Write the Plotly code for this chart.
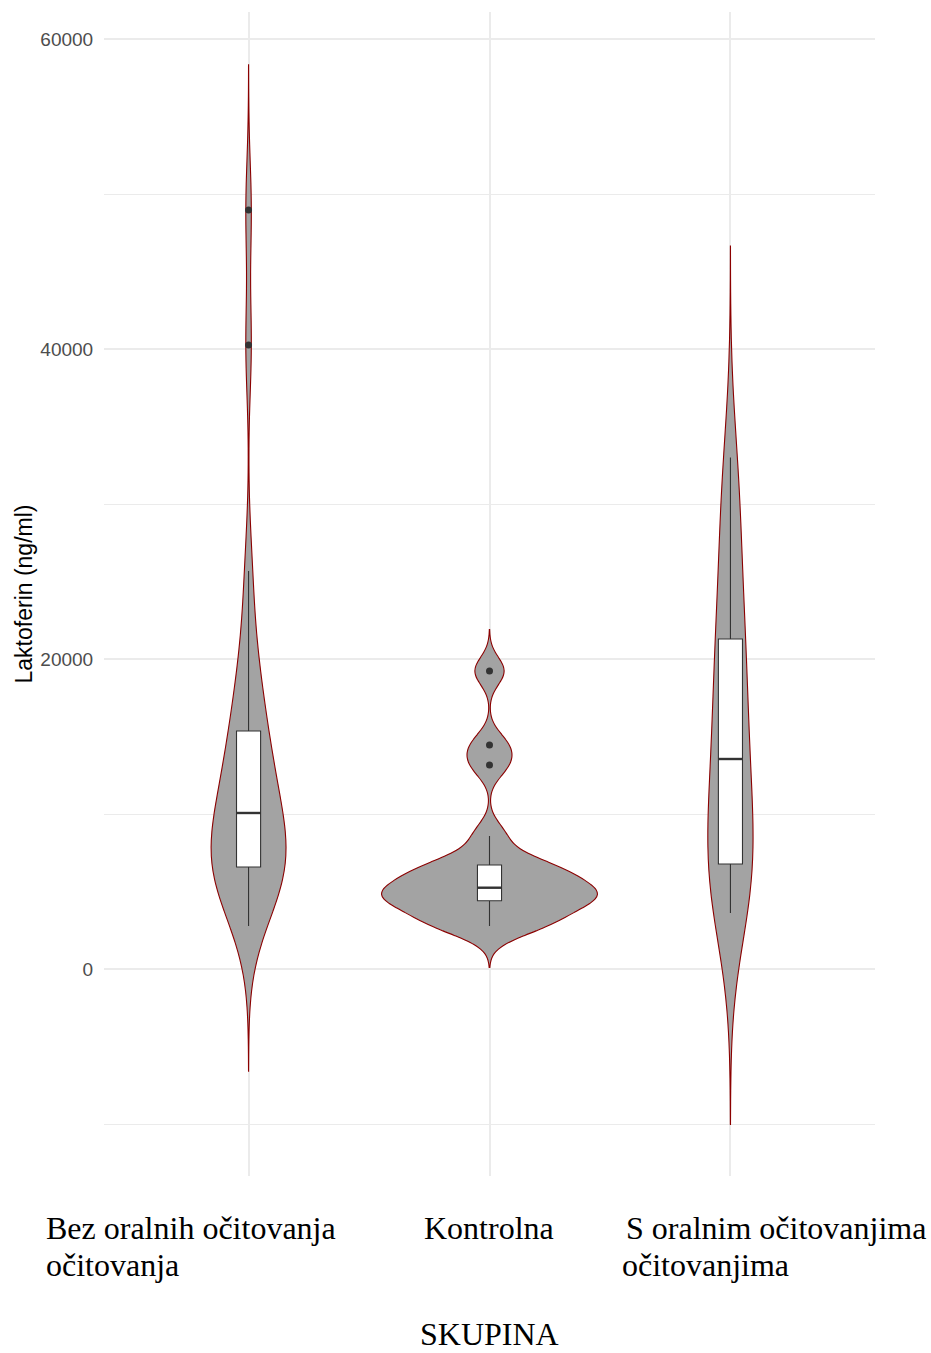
import numpy as np
import plotly.graph_objects as go

# Groups (x categories) and their two-line tick labels
groups = ["Bez oralnih očitovanja", "Kontrolna", "S oralnim očitovanjima"]
tick_labels = [
    ["Bez oralnih očitovanja", "očitovanja"],
    ["Kontrolna"],
    ["S oralnim očitovanjima", "očitovanjima"],
]

# Lactoferrin measurements (ng/ml) per group
bez_oralnih = [2774, 4000, 4800, 5400, 5900, 6200, 6480, 6613, 7000, 7400,
               7900, 8500, 9200, 9800, 10330, 11000, 11700, 12500, 13300, 14200,
               15000, 16420, 17500, 19000, 21500, 25677, 40258, 48968]
kontrolna = [2774, 2850, 3050, 3900, 4350, 4570, 4650, 4800, 5150, 5340,
             5900, 6400, 6650, 6730, 8580, 13161, 14452, 19226]
s_oralnim = [3613, 4400, 5200, 5900, 6550, 6850, 8600, 10200, 11700, 13000,
             14096, 16000, 17800, 19500, 20800, 22750, 25000, 28000, 30500, 33000]

# y-axis ticks
y_ticks = [0, 20000, 40000, 60000]
y_minor = [-10000, 10000, 30000, 50000]

series = [bez_oralnih, kontrolna, s_oralnim]
bandwidths = [3120, 890, 4550]          # kernel sd per group
violin_widths = [0.311, 0.896, 0.187]   # equal-area look

VIOLIN_FILL = "#A3A3A3"
VIOLIN_LINE = "#8B0000"
BOX_LINE = "#333333"
GRID = "#EBEBEB"

fig = go.Figure()

for name, vals, bw, w in zip(groups, series, bandwidths, violin_widths):
    arr = np.asarray(vals, dtype=float)
    fig.add_trace(go.Violin(
        y=arr, x0=name, orientation="v",
        bandwidth=bw, spanmode="manual",
        span=[arr.min() - 3 * bw, arr.max() + 3 * bw],
        scalemode="width", width=w,
        fillcolor=VIOLIN_FILL,
        line=dict(color=VIOLIN_LINE, width=1.1),
        points=False, box_visible=False, meanline_visible=False,
        showlegend=False, hoverinfo="skip",
    ))

for i, (name, vals) in enumerate(zip(groups, series)):
    arr = np.sort(np.asarray(vals, dtype=float))
    q1, med, q3 = np.percentile(arr, [25, 50, 75])
    iqr = q3 - q1
    inside = arr[(arr >= q1 - 1.5 * iqr) & (arr <= q3 + 1.5 * iqr)]
    outliers = arr[(arr < q1 - 1.5 * iqr) | (arr > q3 + 1.5 * iqr)]

    fig.add_trace(go.Box(
        x=[name], q1=[q1], median=[med], q3=[q3],
        lowerfence=[inside.min()], upperfence=[inside.max()],
        width=0.1, whiskerwidth=0,
        fillcolor="white",
        line=dict(color=BOX_LINE, width=1.1),
        boxpoints=False,
        showlegend=False, hoverinfo="skip",
    ))
    if len(outliers):
        fig.add_trace(go.Scatter(
            x=[name] * len(outliers), y=outliers, mode="markers",
            marker=dict(color=BOX_LINE, size=7, line=dict(width=0)),
            showlegend=False, hoverinfo="skip",
        ))
    # thicker median bar drawn over the box
    fig.add_shape(type="line", xref="x", yref="y",
                  x0=i - 0.05, x1=i + 0.05, y0=med, y1=med,
                  line=dict(color=BOX_LINE, width=2.4), layer="above")

# Category labels below the plot, serif, left-aligned lines
label_font = dict(family="Liberation Serif, Times New Roman, serif", size=32, color="black")
line_offsets = [-52, -89]
left_shifts = {0: [-205, -205], 2: [-106, -110]}
for i, lines in enumerate(tick_labels):
    for j, txt in enumerate(lines):
        if i in left_shifts:
            fig.add_annotation(x=i, xref="x", y=0, yref="paper", text=txt,
                               showarrow=False, xanchor="left", yanchor="middle",
                               xshift=left_shifts[i][j], yshift=line_offsets[j],
                               font=label_font)
        else:
            fig.add_annotation(x=i, xref="x", y=0, yref="paper", text=txt,
                               showarrow=False, xanchor="center", yanchor="middle",
                               xshift=-1, yshift=line_offsets[j], font=label_font)

fig.add_annotation(x=0.5, xref="paper", y=0, yref="paper", text="SKUPINA",
                   showarrow=False, xanchor="center", yanchor="middle",
                   yshift=-158, font=label_font)

fig.update_layout(
    width=931, height=1353,
    margin=dict(l=104, r=56, t=12, b=177),
    paper_bgcolor="white", plot_bgcolor="white",
    violinmode="overlay", boxmode="overlay",
    xaxis=dict(
        type="category", categoryorder="array", categoryarray=groups,
        range=[-0.6, 2.6], showticklabels=False, ticks="",
        showgrid=True, gridcolor=GRID, gridwidth=1.5,
        zeroline=False, showline=False, fixedrange=True,
    ),
    yaxis=dict(
        range=[-13355, 61742],
        tickmode="array", tickvals=y_ticks,
        ticktext=[str(v) for v in y_ticks],
        ticks="outside", ticklen=6, tickcolor="rgba(0,0,0,0)",
        tickfont=dict(family="Liberation Sans, Arial, sans-serif", size=19, color="#4D4D4D"),
        showgrid=True, gridcolor=GRID, gridwidth=1.5,
        minor=dict(tickmode="array", tickvals=y_minor, showgrid=True,
                   gridcolor=GRID, gridwidth=1.2, ticks=""),
        zeroline=False, showline=False,
        title=dict(text="Laktoferin (ng/ml)", standoff=1,
                   font=dict(family="Liberation Sans, Arial, sans-serif", size=23, color="black")),
        automargin=False,
    ),
)

fig.write_html("out.html")
